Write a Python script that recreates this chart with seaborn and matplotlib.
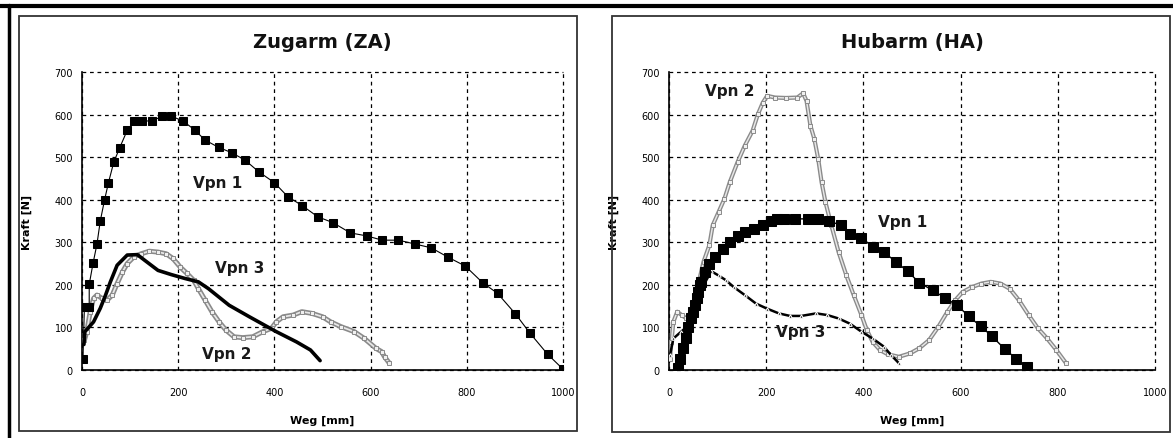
import numpy as np
import pandas as pd
import seaborn as sns
import matplotlib.pyplot as plt
from matplotlib.lines import Line2D
from matplotlib.patches import Rectangle

# Zugarm (ZA)
za_vpn1_x = [2, 5, 15, 15, 23, 31, 38, 47, 55, 66, 78, 94, 109, 125, 146, 166, 186,
             210, 234, 256, 284, 312, 339, 367, 400, 428, 458, 490, 522, 558, 592,
             624, 658, 692, 726, 761, 797, 833, 864, 901, 931, 968, 1000]
za_vpn1_y = [27, 148, 148, 201, 251, 295, 350, 400, 440, 488, 521, 563, 585, 585, 585,
             596, 596, 585, 564, 540, 523, 510, 493, 466, 440, 407, 386, 360, 346, 322,
             315, 305, 305, 296, 287, 265, 244, 205, 180, 132, 87, 37, 2]

za_vpn2_x = [5, 10, 17, 24, 31, 42, 52, 63, 73, 84, 94, 108, 123, 140, 158, 175, 189,
             204, 218, 232, 242, 256, 270, 285, 299, 316, 334, 355, 376, 394, 404, 418,
             439, 457, 478, 500, 517, 538, 566, 587, 611, 623, 629, 639]
za_vpn2_y = [70, 90, 137, 168, 176, 168, 164, 176, 203, 230, 250, 266, 273, 279, 277,
             273, 262, 242, 227, 211, 191, 164, 137, 113, 94, 78, 76, 78, 90, 98, 113,
             125, 129, 137, 133, 125, 113, 102, 90, 74, 51, 43, 31, 16]

za_vpn3_x = [4, 6, 24, 38, 49, 59, 73, 94, 115, 130, 158, 186, 214, 242, 263, 306, 348,
             404, 446, 475, 495]
za_vpn3_y = [60, 90, 113, 145, 176, 207, 246, 270, 271, 258, 234, 224, 215, 207, 191,
             152, 125, 90, 66, 47, 22]

# Hubarm (HA)
ha_vpn1_x = [19, 23, 29, 34, 40, 46, 50, 54, 57, 60, 63, 66, 75, 83, 94, 112, 125, 141,
             156, 175, 193, 210, 222, 237, 260, 287, 307, 330, 353, 372, 396, 419, 442,
             467, 491, 515, 543, 567, 593, 617, 641, 664, 691, 714, 737]
ha_vpn1_y = [5, 27, 51, 74, 101, 121, 137, 152, 168, 183, 199, 207, 230, 250, 265, 285,
             300, 315, 324, 332, 340, 351, 355, 355, 355, 355, 355, 349, 341, 320, 310,
             290, 277, 254, 232, 205, 187, 170, 152, 126, 103, 80, 49, 27, 6]

ha_vpn2_x = [2, 5, 9, 17, 26, 36, 48, 56, 63, 71, 83, 90, 102, 114, 125, 141, 156, 172,
             183, 193, 202, 218, 241, 264, 276, 283, 291, 299, 307, 314, 322, 334, 349,
             365, 380, 396, 407, 419, 434, 450, 473, 496, 515, 535, 554, 573, 589, 604,
             624, 643, 662, 682, 701, 720, 740, 759, 778, 797, 817]
ha_vpn2_y = [27, 66, 113, 137, 129, 121, 141, 176, 215, 254, 293, 340, 371, 402, 441,
             488, 527, 562, 601, 628, 644, 640, 639, 640, 650, 632, 574, 543, 496, 441,
             394, 340, 277, 222, 176, 129, 94, 66, 47, 37, 31, 39, 51, 70, 101, 137, 164,
             183, 195, 203, 207, 203, 191, 164, 129, 98, 74, 47, 16]

ha_vpn3_x = [2, 9, 25, 40, 56, 71, 87, 102, 117, 133, 156, 179, 202, 226, 249, 272, 303,
             326, 349, 372, 396, 419, 442, 457, 473]
ha_vpn3_y = [35, 74, 90, 105, 129, 199, 232, 222, 211, 195, 176, 156, 144, 133, 127, 127,
             133, 129, 121, 109, 90, 74, 55, 35, 16]

titles = ["Zugarm (ZA)", "Hubarm (HA)"]
x_ticks = [0, 200, 400, 600, 800, 1000]
y_ticks = [0, 100, 200, 300, 400, 500, 600, 700]

sns.set_style("white")
plt.rcParams['font.family'] = ['DejaVu Sans']
plt.rcParams['text.color'] = 'black'
plt.rcParams['axes.labelcolor'] = 'black'
plt.rcParams['xtick.color'] = 'black'
plt.rcParams['ytick.color'] = 'black'

W, H = 1173, 439
fig = plt.figure(figsize=(W / 100, H / 100), dpi=100)


def px_rect(x0, y0, x1, y1):
    return [x0 / W, 1 - y1 / H, (x1 - x0) / W, (y1 - y0) / H]


# outer thick frame (top and left) and the two panel boxes
fig.add_artist(Line2D([0, 1], [1 - 7 / H, 1 - 7 / H], color="black", lw=3))
fig.add_artist(Line2D([8.5 / W, 8.5 / W], [0, 1 - 6 / H], color="black", lw=2.5))
for (x0, y0, x1, y1) in [(19, 17, 577, 432), (612, 17, 1170, 433)]:
    fig.add_artist(Rectangle((x0 / W, 1 - y1 / H), (x1 - x0) / W, (y1 - y0) / H,
                             fill=False, edgecolor="#333333", lw=1.3))

ax_l = fig.add_axes(px_rect(82, 73, 563, 371))
ax_r = fig.add_axes(px_rect(669, 73, 1155, 371))


def draw_gray(ax, x, y, width):
    # chain of small hollow squares look
    sns.lineplot(x=x, y=y, ax=ax, sort=False, estimator=None, color="#8a8a8a",
                 lw=width, zorder=3)
    sns.lineplot(x=x, y=y, ax=ax, sort=False, estimator=None, color="#e8e8e8",
                 lw=width * 0.35, marker="s", markersize=width * 0.9,
                 markerfacecolor="#f0f0f0", markeredgecolor="#8a8a8a",
                 markeredgewidth=0.7, zorder=3.1)


def style_axes(ax, title, w_px):
    ax.set_xlim(0, 1000)
    ax.set_ylim(0, 700)
    ax.set_xticks(x_ticks)
    ax.set_yticks(y_ticks)
    ax.set_xticklabels([str(t) for t in x_ticks])
    ax.set_yticklabels([str(t) for t in y_ticks])
    for s in ["top", "right"]:
        ax.spines[s].set_visible(False)
    for s in ["left", "bottom"]:
        ax.spines[s].set_color("black")
        ax.spines[s].set_linewidth(1.2)
    ax.grid(True, color="black", linestyle=(0, (3, 3)), linewidth=0.9)
    for gl in ax.get_xgridlines() + ax.get_ygridlines():
        gl.set_clip_on(False)
    ax.set_axisbelow(True)
    ax.tick_params(axis="y", direction="inout", length=7, width=1, pad=3, labelsize=7)
    ax.tick_params(axis="x", direction="inout", length=7, width=1, pad=9, labelsize=7)
    ax.set_xlabel("Weg [mm]", fontsize=8, fontweight="bold")
    ax.set_ylabel("Kraft [N]", fontsize=8, fontweight="bold")
    ax.xaxis.set_label_coords(0.5, -45 / 298)
    ax.yaxis.set_label_coords(-50 / w_px, 0.5)
    ax.text(0.5, 1 + 30 / 298, title, transform=ax.transAxes, ha="center",
            va="center", fontsize=14, fontweight="bold", color="#111111")


# left panel
sns.lineplot(x=za_vpn3_x, y=za_vpn3_y, ax=ax_l, sort=False, estimator=None,
             color="black", lw=2.6, zorder=4)
draw_gray(ax_l, za_vpn2_x, za_vpn2_y, 3.6)
sns.lineplot(x=za_vpn1_x, y=za_vpn1_y, ax=ax_l, sort=False, estimator=None,
             color="black", lw=0.8, marker="s", markersize=5.2, markeredgecolor="black",
             zorder=5)
style_axes(ax_l, titles[0], 481)
lab = dict(fontsize=11, fontweight="bold", color="#1a1a1a", ha="center", va="center")
ax_l.text(283, 440, "Vpn 1", **lab)
ax_l.text(328, 240, "Vpn 3", **lab)
ax_l.text(301, 39, "Vpn 2", **lab)

# right panel
draw_gray(ax_r, ha_vpn2_x, ha_vpn2_y, 3.0)
sns.lineplot(x=ha_vpn3_x, y=ha_vpn3_y, ax=ax_r, sort=False, estimator=None,
             color="black", lw=1.8, marker="^", markersize=2.5, zorder=4)
sns.lineplot(x=ha_vpn1_x, y=ha_vpn1_y, ax=ax_r, sort=False, estimator=None,
             color="black", lw=1.0, marker="s", markersize=6.8, markeredgecolor="black",
             zorder=5)
style_axes(ax_r, titles[1], 486)
ax_r.text(125, 656, "Vpn 2", **lab)
ax_r.text(481, 349, "Vpn 1", **lab)
ax_r.text(270, 90, "Vpn 3", **lab)

fig.savefig("out.png", dpi=100)
